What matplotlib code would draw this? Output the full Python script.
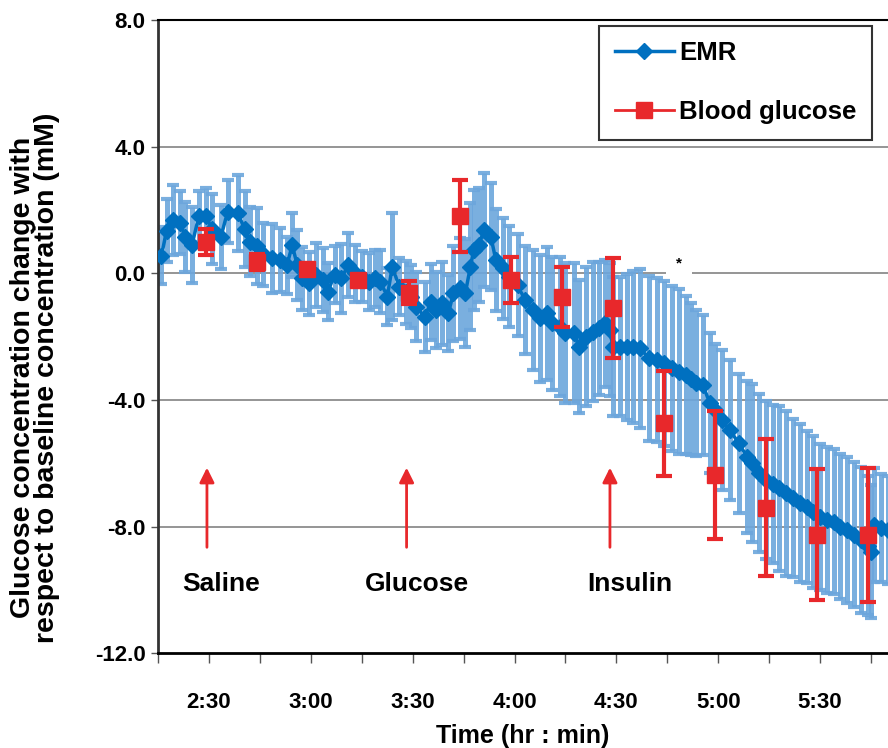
import numpy as np
import matplotlib.pyplot as plt

plt.rcParams['font.family'] = ['Liberation Sans', 'DejaVu Sans']
plt.rcParams['font.weight'] = 'bold'

# EMR estimate (minutes after 0:00, change in mM, SD)
emr_t = [136.0, 137.5, 139.5, 141.5, 143.0, 145.0, 147.0, 149.0, 151.0, 153.5,
         155.5, 158.5, 160.5, 162.0, 164.0, 166.0, 168.5, 171.0, 173.0, 174.5,
         176.0, 177.5, 179.5, 181.5, 183.5, 185.0, 187.0, 189.0, 191.0, 193.0,
         195.0, 197.0, 199.0, 200.5, 202.5, 204.0, 206.0, 208.0, 209.5, 211.0,
         213.5, 215.5, 217.0, 218.5, 220.5, 222.0, 224.0, 225.5, 227.0, 228.0,
         229.5, 231.0, 233.0, 234.5, 236.5, 238.5, 241.0, 243.0, 245.5, 247.5,
         249.5, 251.0, 253.5, 255.0, 257.5, 259.0, 261.0, 263.0, 265.0, 266.5,
         268.0, 269.0, 271.0, 273.0, 275.0, 277.0, 279.5, 282.0, 284.0, 286.5,
         288.5, 290.5, 292.0, 293.5, 295.5, 297.5, 299.0, 301.0, 303.5, 306.0,
         308.5, 310.0, 312.0, 314.0, 316.0, 318.0, 320.0, 322.0, 324.0, 326.0,
         328.0, 330.0, 332.0, 334.0, 336.0, 338.0, 340.0, 342.0, 344.0, 345.0,
         346.0, 348.0, 350.0]
emr_v = [0.55, 1.35, 1.68, 1.60, 1.15, 0.90, 1.80, 1.80, 1.40, 1.15,
         1.95, 1.90, 1.40, 1.00, 0.85, 0.60, 0.47, 0.42, 0.26, 0.89,
         0.26, -0.16, -0.32, -0.05, -0.21, -0.58, -0.05, -0.16, 0.26, 0.00,
         -0.11, -0.26, -0.16, -0.26, -0.74, 0.21, -0.42, -0.60, -0.74, -1.05,
         -1.37, -0.90, -1.16, -0.95, -1.26, -0.63, -0.47, -0.63, 0.21, 0.74,
         0.89, 1.37, 1.16, 0.42, 0.16, -0.11, -0.37, -0.84, -1.16, -1.42,
         -1.26, -1.58, -1.69, -1.89, -1.89, -2.32, -2.00, -1.84, -1.74, -1.58,
         -1.79, -2.32, -2.32, -2.32, -2.32, -2.37, -2.68, -2.74, -2.84, -3.00,
         -3.11, -3.21, -3.35, -3.47, -3.53, -4.10, -4.32, -4.63, -4.95, -5.37,
         -5.79, -6.00, -6.30, -6.53, -6.65, -6.79, -6.95, -7.10, -7.25, -7.37,
         -7.55, -7.69, -7.78, -7.84, -8.00, -8.11, -8.25, -8.42, -8.60, -8.79,
         -7.95, -8.05, -8.10]
emr_err = [0.9, 1.0, 1.1, 1.0, 1.1, 1.2, 0.8, 0.9, 1.1, 1.0,
           1.0, 1.2, 1.2, 1.1, 1.2, 1.0, 1.1, 1.0, 0.9, 1.0,
           1.1, 1.0, 1.0, 1.0, 1.0, 0.9, 0.9, 1.1, 1.0, 0.9,
           0.8, 0.9, 0.9, 1.0, 0.9, 1.7, 0.9, 1.0, 1.0, 1.1,
           1.1, 1.2, 1.2, 1.3, 1.2, 1.5, 1.6, 1.7, 2.0, 1.9,
           1.8, 1.8, 1.7, 1.6, 1.6, 1.6, 1.6, 1.7, 1.9, 2.0,
           2.1, 2.1, 2.2, 2.2, 2.2, 2.1, 2.2, 2.2, 2.1, 2.0,
           2.1, 2.2, 2.2, 2.3, 2.4, 2.5, 2.6, 2.6, 2.6, 2.6,
           2.6, 2.5, 2.4, 2.3, 2.2, 2.2, 2.1, 2.2, 2.2, 2.2,
           2.4, 2.5, 2.5, 2.5, 2.5, 2.6, 2.6, 2.5, 2.5, 2.4,
           2.4, 2.3, 2.3, 2.3, 2.3, 2.3, 2.3, 2.3, 2.2, 2.1,
           1.8, 1.7, 1.7]

# blood glucose samples
bg_t = [149, 164, 179, 194, 209, 224, 239, 254, 269, 284, 299, 314, 329, 344]
bg_v = [0.99, 0.37, 0.14, -0.21, -0.61, 1.82, -0.21, -0.74, -1.09,
        -4.74, -6.37, -7.40, -8.26, -8.26]
bg_err = [0.40, 0.25, 0.15, 0.15, 0.37, 1.14, 0.72, 0.95, 1.57,
          1.66, 2.03, 2.17, 2.07, 2.12]

# injections
inj_t = [149.4, 208.2, 268.1]
inj_names = ['Saline', 'Glucose', 'Insulin']
inj_label_t = [153.7, 211.3, 274.0]

tick_pos = [135, 150, 165, 180, 195, 210, 225, 240, 255, 270, 285, 300, 315, 330, 345]
tick_labels = ['', '2:30', '', '3:00', '', '3:30', '', '4:00', '', '4:30', '', '5:00', '', '5:30', '']

blue = '#0070C0'
light_blue = '#6CA6DC'
red = '#E8282B'

fig = plt.figure(figsize=(8.88, 7.48), dpi=100)
ax = fig.add_axes([0.178, 0.1266, 0.822, 0.8467])

for y in [4, 0, -4, -8]:
    ax.axhline(y, color='#8C8C8C', lw=1.3, zorder=0)

ax.errorbar(emr_t, emr_v, yerr=emr_err, fmt='none', ecolor=light_blue,
            elinewidth=3.6, capsize=4, capthick=3, alpha=0.9, zorder=2)
ax.plot(emr_t, emr_v, color=blue, lw=2.5, marker='D', markersize=8,
        label='EMR', zorder=3)

ax.errorbar(bg_t, bg_v, yerr=bg_err, fmt='none', ecolor=red,
            elinewidth=3, capsize=6, capthick=3, zorder=4)
ax.plot(bg_t, bg_v, ls='none', marker='s', markersize=12, color=red, zorder=5)
# legend handle for blood glucose (line + square)
ax.plot([], [], color=red, lw=2, marker='s', markersize=12, label='Blood glucose')

for t, name, lt in zip(inj_t, inj_names, inj_label_t):
    ax.annotate('', xy=(t, -6.05), xytext=(t, -8.74),
                arrowprops=dict(arrowstyle='-|>', color=red, lw=2, mutation_scale=22),
                zorder=4)
    ax.text(lt, -9.8, name, ha='center', va='center', fontsize=19, fontweight='bold')

ax.text(288.5, 0.3, '*', ha='center', va='center', fontsize=11,
        bbox=dict(facecolor='white', edgecolor='none', pad=7), zorder=1)

ax.set_xlim(135, 350)
ax.set_ylim(-12, 8)
ax.set_yticks([8, 4, 0, -4, -8, -12])
ax.set_yticklabels(['8.0', '4.0', '0.0', '-4.0', '-8.0', '-12.0'])
ax.set_xticks(tick_pos)
ax.set_xticklabels(tick_labels)
ax.tick_params(axis='x', direction='out', length=7, width=1, color='#555555',
               labelsize=16, pad=21)
ax.tick_params(axis='y', direction='out', length=5, width=1, color='#555555',
               labelsize=16, pad=4)
for lab in ax.get_xticklabels() + ax.get_yticklabels():
    lab.set_fontweight('bold')

ax.spines['right'].set_visible(False)
ax.spines['left'].set_color('#333333')
ax.spines['left'].set_linewidth(2)
ax.spines['bottom'].set_linewidth(2)
ax.spines['top'].set_linewidth(1.5)

ax.set_xlabel('Time (hr : min)', fontsize=18, fontweight='bold', labelpad=8)
ax.set_ylabel('Glucose concentration change with\nrespect to baseline concentration (mM)',
              fontsize=20.5, fontweight='bold', linespacing=0.9)
ax.yaxis.set_label_coords(-0.135, 0.435)

leg = ax.legend(loc='upper right', bbox_to_anchor=(0.978, 0.9905), fontsize=18.5,
                frameon=True, fancybox=False, borderpad=0.6, labelspacing=1.35,
                handlelength=2.3, handletextpad=0.2, borderaxespad=0)
leg.get_frame().set_edgecolor('black')
leg.get_frame().set_linewidth(1.5)
for txt in leg.get_texts():
    txt.set_fontweight('bold')

fig.savefig('out.png', dpi=100)
